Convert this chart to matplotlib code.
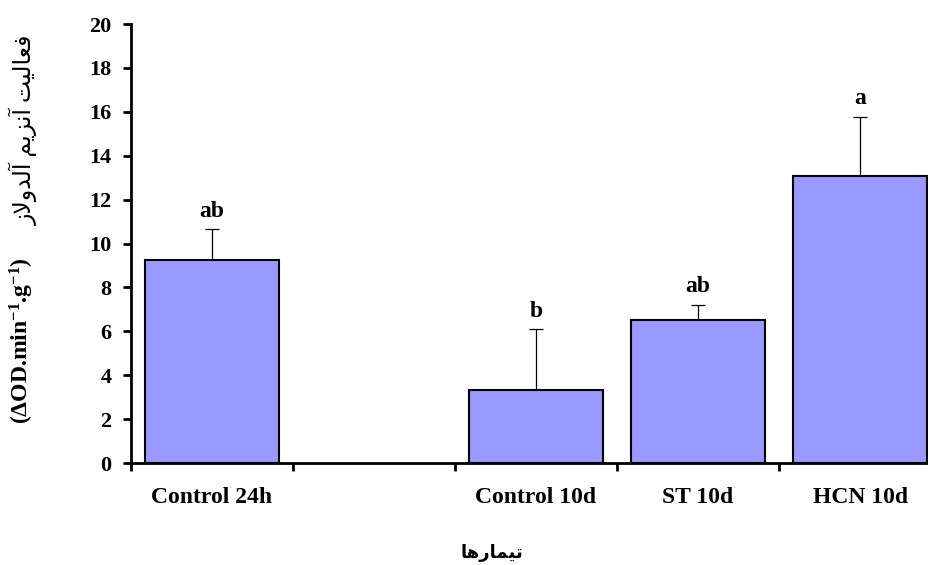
import matplotlib
matplotlib.use("Agg")
import matplotlib.pyplot as plt
import numpy as np

# data
categories = ["Control 24h", "", "Control 10d", "ST 10d", "HCN 10d"]
means = [9.27, None, 3.33, 6.50, 13.07]
errors = [1.38, None, 2.77, 0.72, 2.70]
letters = ["ab", "", "b", "ab", "a"]
ylabel_fa = "فعالیت آنزیم آلدولاز"
ylabel_unit = r"($\Delta$OD.min$^{-1}$.g$^{-1}$)"
xlabel_fa = "تیمارها"

# tiny Persian shaper (matplotlib has no bidi / joining)
FORMS = {
    "ف": ("\uFED1", "\uFED2", "\uFED3", "\uFED4"),
    "ع": ("\uFEC9", "\uFECA", "\uFECB", "\uFECC"),
    "ا": ("\uFE8D", "\uFE8E", None, None),
    "ل": ("\uFEDD", "\uFEDE", "\uFEDF", "\uFEE0"),
    "ی": ("\uFBFC", "\uFBFD", "\uFEF3", "\uFEF4"),
    "ت": ("\uFE95", "\uFE96", "\uFE97", "\uFE98"),
    "آ": ("\uFE81", "\uFE82", None, None),
    "ن": ("\uFEE5", "\uFEE6", "\uFEE7", "\uFEE8"),
    "ز": ("\uFEAF", "\uFEB0", None, None),
    "م": ("\uFEE1", "\uFEE2", "\uFEE3", "\uFEE4"),
    "د": ("\uFEA9", "\uFEAA", None, None),
    "و": ("\uFEED", "\uFEEE", None, None),
    "ر": ("\uFEAD", "\uFEAE", None, None),
    "ه": ("\uFEE9", "\uFEEA", "\uFEEB", "\uFEEC"),
}


def shape(text):
    out = []
    for word in text.split(" "):
        chars = list(word)
        res = []
        i = 0
        while i < len(chars):
            c = chars[i]
            prev_joins = i > 0 and chars[i - 1] in FORMS and FORMS[chars[i - 1]][2] is not None
            if c == "ل" and i + 1 < len(chars) and chars[i + 1] == "ا":
                res.append("\uFEFC" if prev_joins else "\uFEFB")
                i += 2
                continue
            f = FORMS[c]
            next_ok = i + 1 < len(chars) and f[2] is not None
            if prev_joins and next_ok:
                res.append(f[3])
            elif prev_joins:
                res.append(f[1])
            elif next_ok:
                res.append(f[2])
            else:
                res.append(f[0])
            i += 1
        out.append("".join(res))
    return " ".join(out)[::-1]


plt.rcParams["font.family"] = ["Liberation Serif", "DejaVu Sans"]
plt.rcParams["font.weight"] = "bold"
plt.rcParams["mathtext.fontset"] = "custom"
plt.rcParams["mathtext.rm"] = "Liberation Serif:bold"
plt.rcParams["mathtext.bf"] = "Liberation Serif:bold"
plt.rcParams["mathtext.default"] = "rm"

fig = plt.figure(figsize=(9.29, 5.65), dpi=100)
ax = fig.add_axes([0.141, 0.1805, 0.872, 0.777])

x = np.arange(len(categories))
idx = [i for i in range(len(categories)) if means[i] is not None]
h = [means[i] for i in idx]
e = [errors[i] for i in idx]

ax.errorbar(idx, h, yerr=[np.zeros(len(e)), e], fmt="none", ecolor="black",
            elinewidth=0.9, capsize=4.7, capthick=0.9, zorder=1)
ax.bar(idx, h, width=0.83, color="#9999FF", edgecolor="black", linewidth=1.5, zorder=2)

for i in idx:
    ax.annotate(letters[i], (i, means[i] + errors[i]), xytext=(0, 9),
                textcoords="offset points", ha="center", va="baseline",
                fontsize=17, fontweight="bold")

ax.set_xlim(-0.5, 4.5)
ax.set_ylim(0, 20)
ax.set_yticks(np.arange(0, 21, 2))
ax.set_xticks(np.arange(-0.5, 4.0, 1.0))
ax.set_xticklabels([])
ax.set_xticks(x, minor=True)
ax.set_xticklabels(categories, minor=True)
ax.tick_params(axis="x", which="major", direction="out", length=6, width=2)
ax.tick_params(axis="x", which="minor", length=0, pad=17, labelsize=17)
ax.tick_params(axis="y", direction="out", length=6, width=2, labelsize=16, pad=8)
for lab in ax.get_xticklabels(minor=True) + ax.get_yticklabels():
    lab.set_fontweight("bold")

for s in ["top", "right"]:
    ax.spines[s].set_visible(False)
for s in ["left", "bottom"]:
    ax.spines[s].set_linewidth(2)

fig.text(0.024, 0.398, ylabel_unit, rotation=90, ha="center", va="center",
         fontsize=17, fontweight="bold")
fig.text(0.025, 0.77, shape(ylabel_fa), rotation=90, ha="center", va="center",
         fontsize=17, fontweight="normal")
fig.text(0.53, 0.022, shape(xlabel_fa), ha="center", va="center",
         fontsize=13, fontweight="bold")

fig.savefig("out.png", dpi=100)
